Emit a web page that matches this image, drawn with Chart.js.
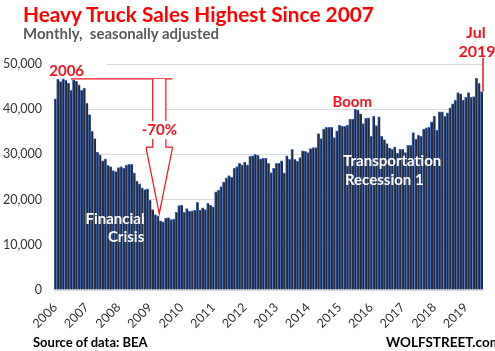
<!DOCTYPE html>
<html><head><meta charset="utf-8">
<script src="https://cdn.jsdelivr.net/npm/chart.js@4.4.1/dist/chart.umd.min.js"></script>
<style>
html,body{margin:0;padding:0;background:#fff;}
#wrap{position:relative;width:495px;height:351px;overflow:hidden;background:#fff;}
#c{position:absolute;left:0;top:0;}
.t{position:absolute;white-space:nowrap;font-family:Lato,"Open Sans",sans-serif;font-weight:bold;line-height:1;}
#title{left:23px;top:4px;font-size:20.8px;color:#ff0000;}
#sub{left:23px;top:26px;font-size:15px;color:#595959;}
#src{left:33px;top:336px;font-size:13px;color:#000;}
#ws{left:386px;top:336px;font-size:13.5px;color:#000;}
</style></head>
<body><div id="wrap"><canvas id="c" width="495" height="351"></canvas>
<div class="t" id="title">Heavy Truck Sales Highest Since 2007</div>
<div class="t" id="sub">Monthly,&nbsp; seasonally adjusted</div>
<div class="t" id="src">Source of data: BEA</div>
<div class="t" id="ws">WOLFSTREET.com</div>
</div>
<script>
// Monthly heavy truck sales, seasonally adjusted (units)
const years = ['2006','2007','2008','2009','2010','2011','2012','2013','2014','2015','2016','2017','2018','2019'];
const s2006 = [42300,46600,46100,46700,46400,45800,44200,46500,46200,45400,44200,44700];
const s2007 = [41300,38800,35100,33500,30500,29900,28600,29000,27600,27300,26400,26200];
const s2008 = [27100,27300,27000,27600,27800,27800,25900,24100,23500,22600,22200,22400];
const s2009 = [19900,17800,16700,16400,15300,15100,15900,16000,15600,15700,17200,18700];
const s2010 = [18800,17200,18000,17400,17500,17600,19400,17700,18200,17800,19200,18800];
const s2011 = [18400,21700,22100,22900,23900,24800,25300,24900,27000,27300,28000,27700];
const s2012 = [28300,27700,29600,29700,30000,29800,29000,29200,29200,28000,26000,26900];
const s2013 = [28000,28100,28600,25900,29700,28900,31100,28900,28500,29300,30800,30700];
const s2014 = [30400,31300,31500,31500,34600,33500,35600,36000,36000,36000,33700,35200];
const s2015 = [36500,36200,36200,36500,37800,37800,40000,39800,39000,36800,38000,38100];
const s2016 = [34000,38500,36400,38300,34000,33300,32400,31400,31200,31700,30300,31100];
const s2017 = [31200,30400,32000,32000,34800,33400,34200,34000,35600,35900,36000,37200];
const s2018 = [38500,35400,39400,39400,38400,39200,40300,41200,42000,43700,43400,42000];
const s2019 = [42600,43700,42600,42800,46900,45700,43900];
const yTicks = [0,10000,20000,30000,40000,50000];

const perYear = [s2006,s2007,s2008,s2009,s2010,s2011,s2012,s2013,s2014,s2015,s2016,s2017,s2018,s2019];
const sales = [].concat(...perYear);
const labels = [];
perYear.forEach((arr,yi)=>arr.forEach((v,m)=>labels.push(years[yi]+'-'+String(m+1).padStart(2,'0'))));

const RED = '#f2131c';
const FONT = 'Lato, "Open Sans", sans-serif';

const annot = {
  id:'annot',
  afterDatasetsDraw(chart){
    const {ctx, scales:{x,y}} = chart;
    const X = i => x.getPixelForValue(i);
    const Y = v => y.getPixelForValue(v);
    ctx.save();
    // white patch behind "2006"
    ctx.fillStyle = '#fff';
    ctx.fillRect(chart.chartArea.left, Y(50000)-3, X(19.5)-chart.chartArea.left, 6);
    ctx.font = 'bold 15px ' + FONT;
    ctx.textAlign = 'center'; ctx.textBaseline = 'middle';
    ctx.fillStyle = RED;
    ctx.fillText('2006', X(4.3), Y(48400));
    // horizontal peak line
    const peak = Math.max(...s2006);
    ctx.strokeStyle = RED; ctx.lineWidth = 1.3;
    ctx.beginPath(); ctx.moveTo(X(6), Y(peak)); ctx.lineTo(X(44.5), Y(peak)); ctx.stroke();
    // arrow
    const xL = X(37), xR = X(42), cx = (xL+xR)/2;
    const xHL = X(34.6), xHR = X(44.4);
    const yT = Y(peak), yS = Y(31600), yH = Y(31100), yTip = Y(16900);
    ctx.beginPath();
    ctx.moveTo(xL,yT); ctx.lineTo(xL,yS); ctx.lineTo(xHL,yS); ctx.lineTo(xHL,yH);
    ctx.lineTo(cx,yTip); ctx.lineTo(xHR,yH); ctx.lineTo(xHR,yS); ctx.lineTo(xR,yS); ctx.lineTo(xR,yT);
    ctx.fillStyle = '#fff'; ctx.fill();
    ctx.lineWidth = 1.2; ctx.strokeStyle = RED; ctx.stroke();
    // -70% label
    ctx.font = 'bold 15px ' + FONT;
    const w = ctx.measureText('-70%').width;
    ctx.fillStyle = '#fff';
    ctx.fillRect(cx - w/2 - 2, Y(35400) - 9, w + 4, 18);
    ctx.fillStyle = RED;
    ctx.fillText('-70%', cx, Y(35400));
    // Boom
    ctx.fillText('Boom', X(112.8), Y(41600));
    // white labels
    ctx.fillStyle = '#fff';
    ctx.fillText('Financial', X(22.7), Y(15700));
    ctx.fillText('Crisis', X(26.9), Y(11600));
    ctx.fillText('Transportation', X(128), Y(28400));
    ctx.fillText('Recession 1', X(125), Y(24300));
    // Jul 2019
    const last = sales.length - 1;
    ctx.fillStyle = RED;
    ctx.font = 'bold 16px ' + FONT;
    ctx.fillText('Jul', X(last-2.2), Y(56900));
    ctx.fillText('2019', X(last-1.8), Y(52700));
    ctx.strokeStyle = RED; ctx.lineWidth = 1.5;
    ctx.beginPath(); ctx.moveTo(X(last+0.5), Y(51400)); ctx.lineTo(X(last+0.5), Y(sales[last])); ctx.stroke();
    ctx.restore();
  }
};

new Chart(document.getElementById('c'), {
  type:'bar',
  data:{
    labels: labels,
    datasets:[{
      data: sales,
      backgroundColor:'#222a3d',
      borderColor:'#3e6cc0',
      borderWidth:{top:1,left:1,right:0,bottom:0},
      borderSkipped:'start',
      barPercentage:1,
      categoryPercentage:1
    }]
  },
  options:{
    responsive:false,
    animation:false,
    devicePixelRatio:1,
    layout:{padding:{left:0,right:12,top:64,bottom:0}},
    plugins:{legend:{display:false},tooltip:{enabled:false}},
    scales:{
      x:{
        grid:{display:false},
        border:{display:true,color:'#d9d9d9',width:1},
        ticks:{
          autoSkip:false, maxRotation:45, minRotation:45, padding:2,
          color:'#333', font:{family:FONT,size:12.5},
          callback:(v,i)=> (i%12===0 ? years[i/12] : '')
        },
        afterFit:(s)=>{ s.height = 61; }
      },
      y:{
        min:0, max:50000,
        afterBuildTicks:(s)=>{ s.ticks = yTicks.map(v=>({value:v})); },
        grid:{color:'#d9d9d9',drawTicks:false},
        border:{display:false},
        ticks:{padding:12,color:'#333',font:{family:FONT,size:12.5},
          callback:(v)=>v.toLocaleString('en-US')},
        afterFit:(s)=>{ s.width = 54; }
      }
    }
  },
  plugins:[annot]
});
</script>
</body></html>
